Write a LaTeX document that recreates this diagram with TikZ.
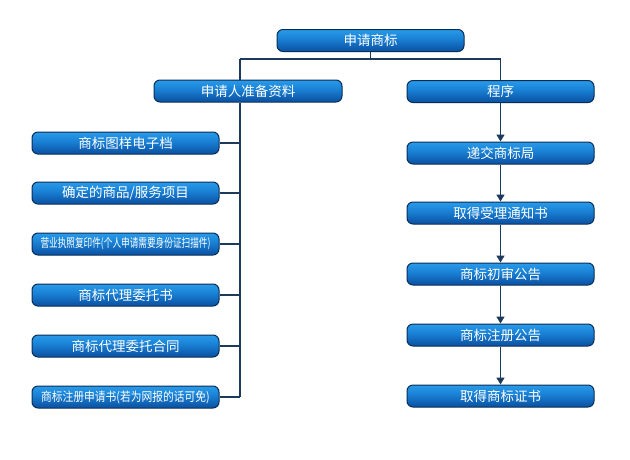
\documentclass[tikz,border=0pt]{standalone}
\usepackage{fontspec}
\setmainfont{Noto Sans CJK SC}
\usetikzlibrary{arrows.meta}
\definecolor{linec}{HTML}{1B3A5C}
\definecolor{edgec}{HTML}{082E58}
\definecolor{sA}{HTML}{0A3D7A}
\definecolor{sB}{HTML}{0D58AA}
\definecolor{sC}{HTML}{1A82D6}
\definecolor{sD}{HTML}{2C9EEC}
\definecolor{sE}{HTML}{4DB4F0}
\definecolor{sF}{HTML}{2A8AD6}
\pgfdeclareverticalshading{boxshade}{100bp}{
  color(0bp)=(sA);
  color(30bp)=(sB);
  color(55bp)=(sC);
  color(78bp)=(sD);
  color(90bp)=(sE);
  color(100bp)=(sF)}
\tikzset{
  box/.style={draw=edgec, line width=1pt, rounded corners=6pt, shading=boxshade,
    minimum width=187pt, minimum height=22pt, inner sep=0pt, text=white,
    font=\fontsize{13.5}{14}\selectfont},
  conn/.style={draw=linec, line width=1.5pt},
  arr/.style={conn, -{Triangle[length=7pt,width=8pt]}}
}
\begin{document}
\begin{tikzpicture}[x=1pt,y=1pt]
\useasboundingbox (0,0) rectangle (630,-459);
\fill[white] (0,0) rectangle (630,-459);
\node[box] (top) at (370.5,-40.5) {申请商标};
\node[box, minimum width=188pt] (prep) at (248,-91) {申请人准备资料};
\node[box] (prog) at (500.5,-91.5) {程序};
\node[box] (l1) at (125.5,-143) {商标图样电子档};
\node[box] (l2) at (125.5,-193) {确定的商品/服务项目};
\node[box] (l3) at (125.5,-244) {\scalebox{0.72}[1]{\fontsize{12}{13}\selectfont 营业执照复印件(个人申请需要身份证扫描件)}};
\node[box] (l4) at (125.5,-295) {商标代理委托书};
\node[box] (l5) at (125.5,-346) {商标代理委托合同};
\node[box] (l6) at (125.5,-397) {\scalebox{0.86}[1]{\fontsize{12.5}{13}\selectfont 商标注册申请书(若为网报的话可免)}};
\node[box] (r1) at (500.5,-153) {递交商标局};
\node[box] (r2) at (500.5,-213) {取得受理通知书};
\node[box] (r3) at (500.5,-274) {商标初审公告};
\node[box] (r4) at (500.5,-335) {商标注册公告};
\node[box] (r5) at (500.5,-396) {取得商标证书};
\coordinate (j) at (370.5,-59);
\coordinate (hl) at (240,-59);
\coordinate (hr) at (500.5,-59);
\draw[conn] (top.south) -- (j);
\draw[conn] (hl) -- (hr);
\draw[conn] (hl) -- (hl |- prep.north);
\draw[conn] (hr) -- (prog.north);
\draw[conn] (hl |- prep.south) -- (hl |- l6.east);
\foreach \n in {l1,l2,l3,l4,l5,l6}{\draw[conn] (\n.east) -- (\n.east -| hl);}
\draw[arr] (prog) -- (r1);
\draw[arr] (r1) -- (r2);
\draw[arr] (r2) -- (r3);
\draw[arr] (r3) -- (r4);
\draw[arr] (r4) -- (r5);
\end{tikzpicture}
\end{document}
